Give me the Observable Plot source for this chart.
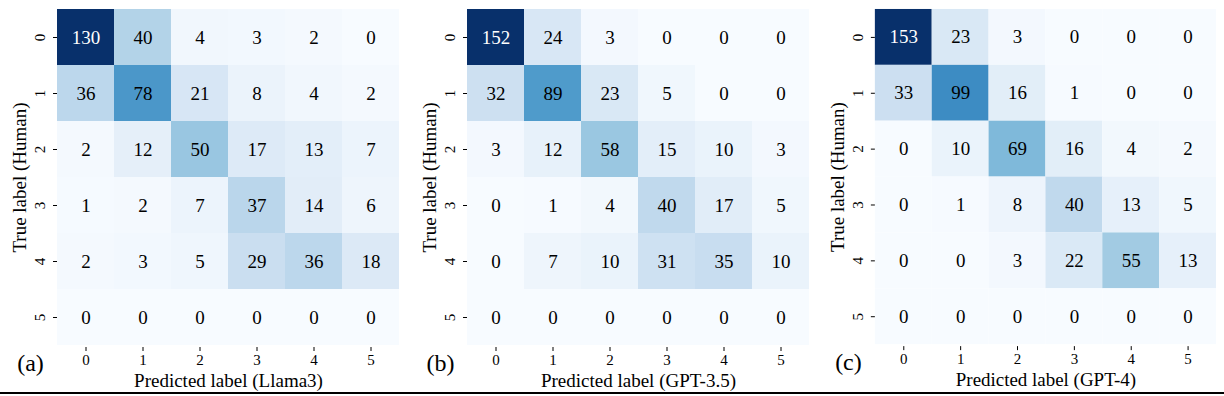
<!DOCTYPE html>
<html>
<head>
<meta charset="utf-8">
<script src="https://cdn.jsdelivr.net/npm/d3@7"></script>
<script src="https://cdn.jsdelivr.net/npm/@observablehq/plot@0.6"></script>
<style>
  html, body { margin: 0; padding: 0; background: #fff; }
  #wrap { position: relative; width: 1224px; height: 396px; overflow: hidden; background: #fff; }
  #wrap > div.panel { position: absolute; top: 0; }
  #rule { position: absolute; left: 0; top: 392px; width: 1224px; height: 2px; background: #000; }
</style>
</head>
<body>
<div id="wrap"><div id="rule"></div></div>
<script>
const labels = [0, 1, 2, 3, 4, 5];
const llama3 = [
  [130, 40, 4, 3, 2, 0],
  [36, 78, 21, 8, 4, 2],
  [2, 12, 50, 17, 13, 7],
  [1, 2, 7, 37, 14, 6],
  [2, 3, 5, 29, 36, 18],
  [0, 0, 0, 0, 0, 0]
];
const gpt35 = [
  [152, 24, 3, 0, 0, 0],
  [32, 89, 23, 5, 0, 0],
  [3, 12, 58, 15, 10, 3],
  [0, 1, 4, 40, 17, 5],
  [0, 7, 10, 31, 35, 10],
  [0, 0, 0, 0, 0, 0]
];
const gpt4 = [
  [153, 23, 3, 0, 0, 0],
  [33, 99, 16, 1, 0, 0],
  [0, 10, 69, 16, 4, 2],
  [0, 1, 8, 40, 13, 5],
  [0, 0, 3, 22, 55, 13],
  [0, 0, 0, 0, 0, 0]
];
const panelLetters = ["(a)", "(b)", "(c)"];
const xTitles = ["Predicted label (Llama3)", "Predicted label (GPT-3.5)", "Predicted label (GPT-4)"];
const yTitle = "True label (Human)";
const matrices = [llama3, gpt35, gpt4];
const offsets = [-1, 409, 817];

const FONT = "'Liberation Serif', 'Times New Roman', serif";

matrices.forEach((m, i) => {
  const rows = [];
  m.forEach((r, ti) => r.forEach((v, pi) => rows.push({truth: labels[ti], pred: labels[pi], value: v})));
  const max = d3.max(rows, d => d.value);
  const chart = Plot.plot({
    width: 408,
    height: 396,
    marginLeft: 58,
    marginRight: 8,
    marginTop: 7,
    marginBottom: 49,
    style: {fontFamily: FONT, fontSize: "15px", background: "transparent", color: "#000"},
    x: {type: "band", domain: labels, padding: 0},
    y: {type: "band", domain: labels, padding: 0},
    color: {type: "linear", scheme: "blues", domain: [0, max]},
    marks: [
      Plot.cell(rows, {x: "pred", y: "truth", fill: "value"}),
      Plot.text(rows, {
        x: "pred", y: "truth", text: d => String(d.value),
        fill: d => d.value / max > 0.8 ? "white" : "black",
        fontSize: 19, fontFamily: FONT
      }),
      Plot.axisX({
        anchor: "bottom", tickSize: 4, tickPadding: 3, label: null
      }),
      Plot.axisY({
        anchor: "left", tickSize: 4, tickPadding: 13,
        tickRotate: -90, textAnchor: "middle", lineAnchor: "middle", label: null
      }),
      Plot.text([xTitles[i]], {
        frameAnchor: "bottom", dy: 33, fontSize: 19, fontFamily: FONT,
        textAnchor: "middle", lineAnchor: "middle", fill: "black"
      }),
      Plot.text([yTitle], {
        frameAnchor: "left", dx: -38, rotate: -90, fontSize: 19, fontFamily: FONT,
        textAnchor: "middle", lineAnchor: "middle", fill: "black"
      }),
      Plot.text([panelLetters[i]], {
        frameAnchor: "bottom-left", dx: -27, dy: 16,
        fontSize: 24, fontFamily: FONT, textAnchor: "middle", lineAnchor: "middle", fill: "black"
      })
    ]
  });
  const holder = document.createElement("div");
  holder.className = "panel";
  holder.style.left = offsets[i] + "px";
  holder.appendChild(chart);
  document.getElementById("wrap").appendChild(holder);
});
</script>
</body>
</html>
